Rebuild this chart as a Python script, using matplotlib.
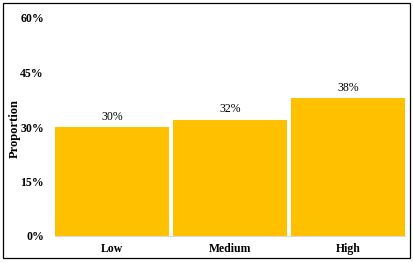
import matplotlib
matplotlib.use("Agg")
import matplotlib.pyplot as plt
from matplotlib.patches import Rectangle

categories = ["Low", "Medium", "High"]
values = [0.30, 0.32, 0.38]
labels = ["30%", "32%", "38%"]
yticks = [0, 0.15, 0.30, 0.45, 0.60]
ytick_labels = ["0%", "15%", "30%", "45%", "60%"]

plt.rcParams['font.family'] = ['Liberation Serif', 'DejaVu Serif']

fig = plt.figure(figsize=(4.14, 2.63), dpi=100)
W, H = 414, 263
ax = fig.add_axes([55 / W, 1 - 236 / H, 350 / W, 218 / H])

w = 0.966
x = range(len(categories))
ax.bar(x, values, width=w, color="#FFC000", edgecolor="none")
ax.set_xlim(-w / 2, len(categories) - 1 + w / 2)
ax.set_ylim(0, 0.60)
ax.set_yticks(yticks)
ax.set_yticklabels(ytick_labels, fontsize=8.5, fontweight="bold")
ax.set_xticks(list(x))
ax.set_xticklabels(categories, fontsize=8.5, fontweight="bold")
ax.tick_params(length=0)
ax.tick_params(axis="y", pad=8)
ax.tick_params(axis="x", pad=5)
for s in ["top", "right", "left"]:
    ax.spines[s].set_visible(False)
ax.spines["bottom"].set_color("#d9d9d9")
ax.spines["bottom"].set_linewidth(0.8)
ax.set_ylabel("Proportion", fontsize=9, fontweight="bold")
ax.yaxis.set_label_coords((15 - 55) / 350, (236 - 129) / 218)
ax.yaxis.label.set_va("center")

for xi, v, lab in zip(x, values, labels):
    ax.text(xi, v + 0.012, lab, ha="center", va="bottom", fontsize=8.5)

fig.patches.append(Rectangle((3 / W, 1 - 258 / H), 407 / W, 255 / H,
                             transform=fig.transFigure, fill=False,
                             edgecolor="black", linewidth=0.9))
fig.savefig("out.png", dpi=100)
